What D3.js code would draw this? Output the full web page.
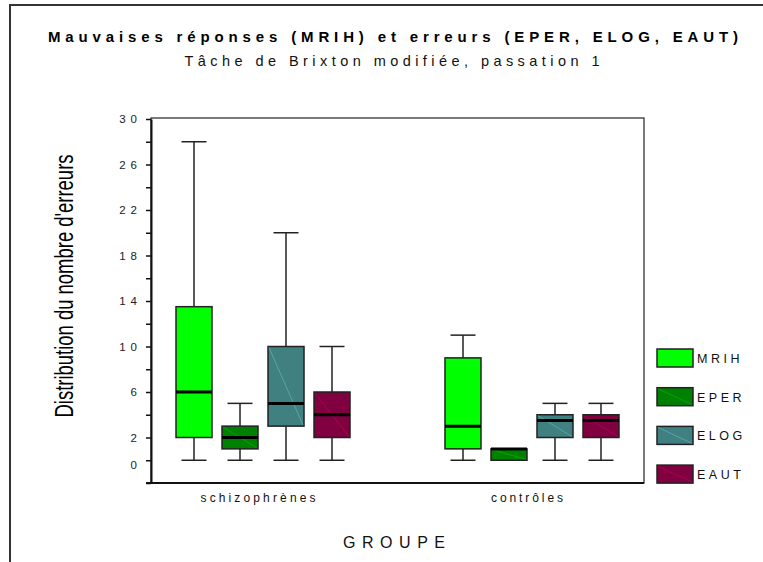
<!DOCTYPE html>
<html>
<head>
<meta charset="utf-8">
<script src="https://cdn.jsdelivr.net/npm/d3@7/dist/d3.min.js"></script>
<style>
  html, body { margin: 0; padding: 0; background: #fff; }
  svg { display: block; font-family: "Liberation Sans", Arial, sans-serif; }
</style>
</head>
<body>
<svg id="chart" width="763" height="562"></svg>
<script>
// ---- data ----
const groups = ["schizophrènes", "contrôles"];
const series = ["MRIH", "EPER", "ELOG", "EAUT"];
const colors = ["#00ff00", "#008000", "#408080", "#800040"];
// five-number summaries [min, q1, median, q3, max] per group
const MRIH = [[0, 2, 6, 13.5, 28], [0, 1, 3, 9, 11]];
const EPER = [[0, 1, 2, 3, 5], [0, 0, 1, 1, 1]];
const ELOG = [[0, 3, 5, 10, 20], [0, 2, 3.5, 4, 5]];
const EAUT = [[0, 2, 4, 6, 10], [0, 2, 3.5, 4, 5]];
const yTickValues = [30, 28, 26, 24, 22, 20, 18, 16, 14, 12, 10, 8, 6, 4, 2, 0, -2];
const yTickLabels = ["30", "26", "22", "18", "14", "10", "6", "2", "0"];
const title = "Mauvaises réponses (MRIH) et erreurs (EPER, ELOG, EAUT)";
const subtitle = "Tâche de Brixton modifiée, passation 1";
const yTitle = "Distribution du nombre d'erreurs";
const xTitle = "GROUPE";

const seriesData = { MRIH, EPER, ELOG, EAUT };

// ---- layout ----
(function () {
const svg = d3.select("#chart");
const pLeft = 151, pRight = 644, pTop = 119, pBottom = 483;

const y = d3.scaleLinear().domain([-2, 30]).range([pBottom, pTop]);
const x0 = d3.scalePoint().domain(groups).range([pLeft, pRight]).padding(0.4164);
const x1 = d3.scalePoint().domain(series).range([-69, 69]);
const color = d3.scaleOrdinal().domain(series).range(colors);
const boxW = 36, capW = 25;

// outer border (left and top)
svg.append("path")
  .attr("d", `M10,562 L10,5 L763,5`)
  .attr("fill", "none").attr("stroke", "#333").attr("stroke-width", 2);

// titles
svg.append("text").attr("x", 393).attr("y", 42)
  .attr("text-anchor", "middle").attr("font-size", 15).attr("font-weight", "bold")
  .attr("fill", "#000")
  .attr("textLength", 690).attr("lengthAdjust", "spacing")
  .text(title);
svg.append("text").attr("x", 392).attr("y", 66)
  .attr("text-anchor", "middle").attr("font-size", 14.5)
  .attr("fill", "#111")
  .attr("textLength", 415).attr("lengthAdjust", "spacing")
  .text(subtitle);

// frame
svg.append("rect")
  .attr("x", pLeft).attr("y", pTop - 1)
  .attr("width", pRight - pLeft).attr("height", pBottom - pTop + 1)
  .attr("fill", "none").attr("stroke", "#222").attr("stroke-width", 1.2);

// y axis
const yAxis = d3.axisLeft(y)
  .tickValues(yTickValues)
  .tickSize(5).tickSizeOuter(0).tickPadding(4)
  .tickFormat(d => yTickLabels.includes(String(d)) ? String(d) : "");
const gy = svg.append("g").attr("transform", `translate(${pLeft},0)`).call(yAxis);
gy.select(".domain").attr("stroke", "#111").attr("stroke-width", 2);
gy.selectAll(".tick line").attr("stroke", "#111").attr("stroke-width", 1.5);
gy.selectAll(".tick text")
  .attr("font-size", 11.5).attr("fill", "#222")
  .attr("font-family", "Liberation Sans, Arial, sans-serif")
  .style("letter-spacing", "5px")
  .attr("dy", d => d === 0 ? "0.75em" : "0.32em");

// bottom axis line
svg.append("line")
  .attr("x1", pLeft - 5).attr("x2", pRight)
  .attr("y1", pBottom).attr("y2", pBottom)
  .attr("stroke", "#111").attr("stroke-width", 2);

// y title
svg.append("text")
  .attr("transform", `translate(73,${(pTop + pBottom) / 2 - 15}) rotate(-90)`)
  .attr("text-anchor", "middle").attr("font-size", 26).attr("fill", "#000")
  .attr("textLength", 263).attr("lengthAdjust", "spacingAndGlyphs")
  .text(yTitle);

// group labels
const groupLabelLen = { "schizophrènes": 115, "contrôles": 72 };
svg.selectAll("text.glabel").data(groups).join("text")
  .attr("class", "glabel")
  .attr("x", d => x0(d) - 5).attr("y", 502)
  .attr("text-anchor", "middle").attr("font-size", 12).attr("fill", "#111")
  .attr("textLength", d => groupLabelLen[d]).attr("lengthAdjust", "spacing")
  .text(d => d);

// x title
svg.append("text").attr("x", 394).attr("y", 548)
  .attr("text-anchor", "middle").attr("font-size", 16).attr("fill", "#111")
  .attr("textLength", 102).attr("lengthAdjust", "spacing")
  .text(xTitle);

// boxes
const boxes = [];
series.forEach(s => {
  groups.forEach((g, gi) => {
    const [mn, q1, md, q3, mx] = seriesData[s][gi];
    boxes.push({ s, g, mn, q1, md, q3, mx });
  });
});

const bg = svg.append("g");
const b = bg.selectAll("g.box").data(boxes).join("g")
  .attr("class", "box")
  .attr("transform", d => `translate(${x0(d.g) + x1(d.s)},0)`);

// whiskers
b.filter(d => d.mx > d.q3).append("line")
  .attr("x1", 0).attr("x2", 0).attr("y1", d => y(d.mx)).attr("y2", d => y(d.q3))
  .attr("stroke", "#222").attr("stroke-width", 1.5);
b.filter(d => d.mn < d.q1).append("line")
  .attr("x1", 0).attr("x2", 0).attr("y1", d => y(d.mn)).attr("y2", d => y(d.q1))
  .attr("stroke", "#222").attr("stroke-width", 1.5);
b.filter(d => d.mx > d.q3).append("line")
  .attr("x1", -capW / 2).attr("x2", capW / 2).attr("y1", d => y(d.mx)).attr("y2", d => y(d.mx))
  .attr("stroke", "#222").attr("stroke-width", 1.5);
b.filter(d => d.mn < d.q1).append("line")
  .attr("x1", -capW / 2).attr("x2", capW / 2).attr("y1", d => y(d.mn)).attr("y2", d => y(d.mn))
  .attr("stroke", "#222").attr("stroke-width", 1.5);

// box body
b.append("rect")
  .attr("x", -boxW / 2).attr("width", boxW)
  .attr("y", d => y(d.q3)).attr("height", d => y(d.q1) - y(d.q3))
  .attr("fill", d => color(d.s))
  .attr("stroke", "#222").attr("stroke-width", 1.5);
// faint diagonal
b.append("line")
  .attr("x1", -boxW / 2 + 1).attr("y1", d => y(d.q3) + 1)
  .attr("x2", boxW / 2 - 1).attr("y2", d => y(d.q1) - 1)
  .attr("stroke", d => d3.color(color(d.s)).brighter(1.5))
  .attr("stroke-opacity", 0.6).attr("stroke-width", 0.7);
// median
b.append("line")
  .attr("x1", -boxW / 2).attr("x2", boxW / 2)
  .attr("y1", d => y(d.md)).attr("y2", d => y(d.md))
  .attr("stroke", "#000").attr("stroke-width", 3);

// legend
const lg = svg.append("g").attr("transform", "translate(657,349)");
const li = lg.selectAll("g").data(series).join("g")
  .attr("transform", (d, i) => `translate(0,${i * 38.7})`);
li.append("rect").attr("width", 36).attr("height", 18)
  .attr("fill", d => color(d)).attr("stroke", "#222").attr("stroke-width", 1.5);
li.append("line").attr("x1", 1).attr("y1", 1).attr("x2", 35).attr("y2", 17)
  .attr("stroke", d => d3.color(color(d)).brighter(1.5))
  .attr("stroke-opacity", 0.6).attr("stroke-width", 0.7);
li.append("text").attr("x", 40).attr("y", 14)
  .attr("font-size", 12.5).attr("fill", "#111")
  .style("letter-spacing", "3.5px")
  .text(d => d);
})();
</script>
</body>
</html>
